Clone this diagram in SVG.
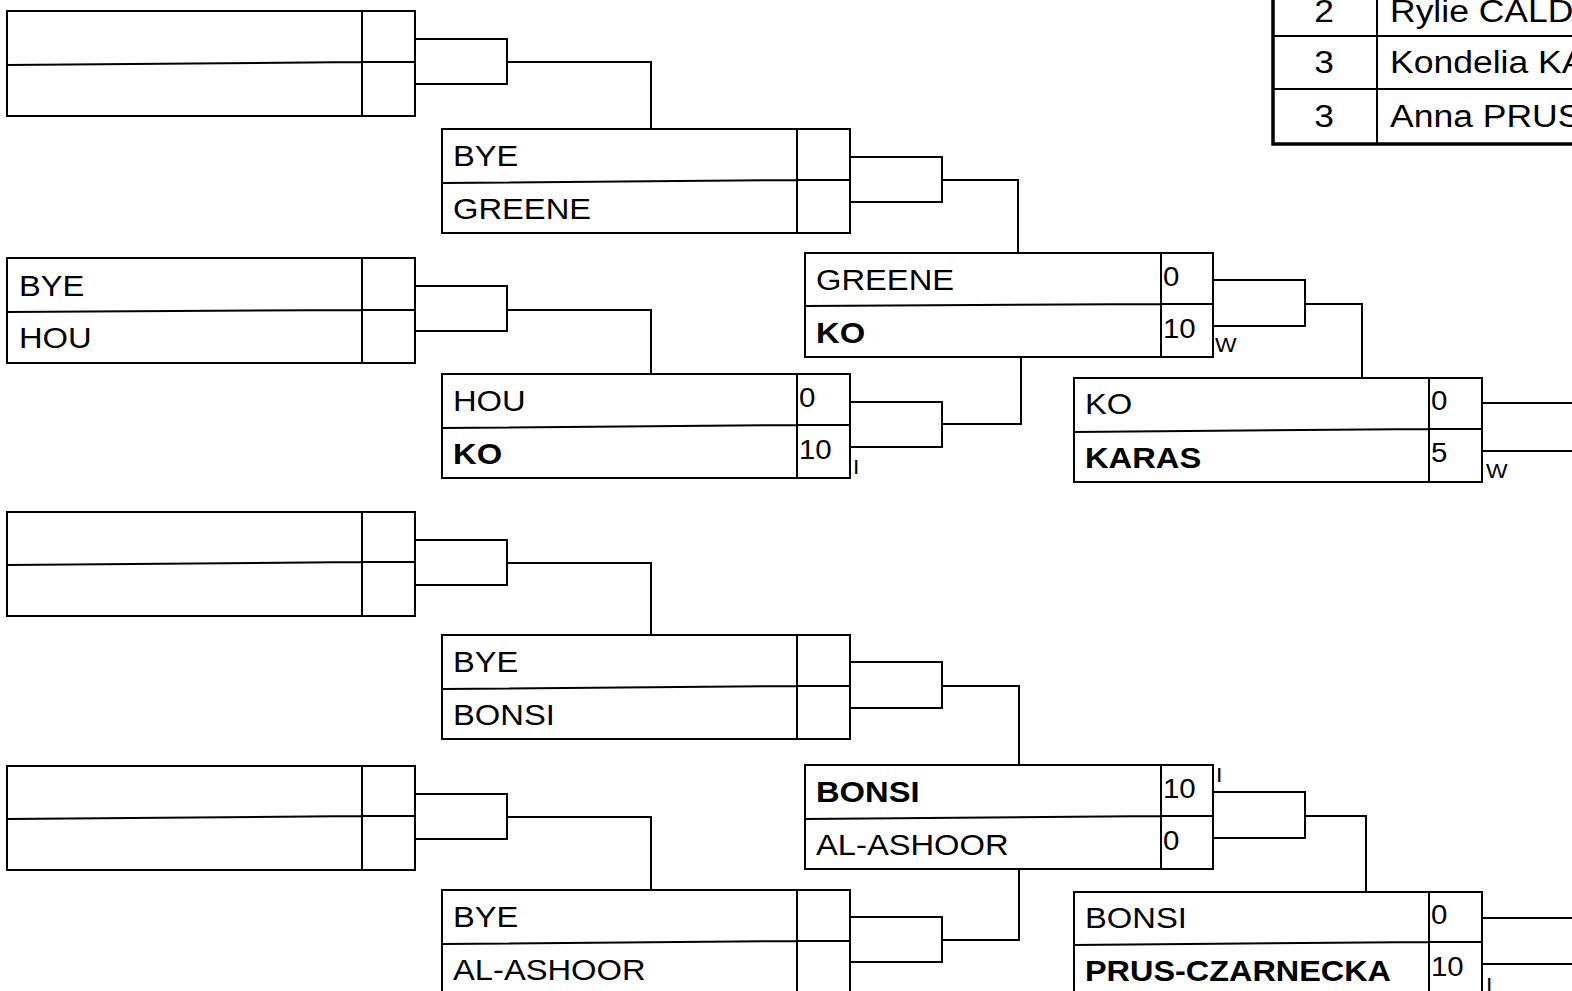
<svg xmlns="http://www.w3.org/2000/svg" width="1572" height="991" viewBox="0 0 1572 991">
<style>
.bx{fill:#fff;stroke:#000;stroke-width:2}
.ln{fill:none;stroke:#000;stroke-width:2}
.tk{fill:none;stroke:#000;stroke-width:3.5}
text{font-family:"Liberation Sans",Arial,sans-serif;fill:#000}
.nm{font-size:30px}
.b{font-weight:bold}
.sc{font-size:27px}
.lb{font-size:21px}
.tb{font-size:31px}
</style>
<rect width="1572" height="991" fill="#fff"/>

<g id="connectors" class="ln">
<path d="M415 39H507V84H415M507 62H651V129"/>
<path d="M415 286H507V331H415M507 310H651V374"/>
<path d="M415 540H507V585H415M507 563H651V635"/>
<path d="M415 794H507V839H415M507 817H651V890"/>
<path d="M850 157H942V202H850M942 180H1018V253"/>
<path d="M850 402H942V447H850M942 424H1021V357"/>
<path d="M850 662H942V708H850M942 686H1019V765"/>
<path d="M850 917H942V962H850M942 940H1019V869"/>
<path d="M1213 280H1305V326H1213M1305 304H1362V378"/>
<path d="M1213 792H1305V838H1213M1305 816H1366V892"/>
<path d="M1482 403H1572M1482 451H1572"/>
<path d="M1482 918H1572M1482 964H1572"/>
</g>

<g id="box-r1-1">
<rect class="bx" x="7" y="11" width="408" height="105"/>
<path class="ln" d="M362 11V116M7 65L362 62H415"/>
</g>
<g id="box-r1-2">
<rect class="bx" x="7" y="258" width="408" height="105"/>
<path class="ln" d="M362 258V363M7 312L362 310H415"/>
<text class="nm" x="19" y="296" textLength="65.4" lengthAdjust="spacingAndGlyphs">BYE</text>
<text class="nm" x="19" y="348" textLength="72.7" lengthAdjust="spacingAndGlyphs">HOU</text>
</g>
<g id="box-r1-3">
<rect class="bx" x="7" y="512" width="408" height="104"/>
<path class="ln" d="M362 512V616M7 565L362 562H415"/>
</g>
<g id="box-r1-4">
<rect class="bx" x="7" y="766" width="408" height="104"/>
<path class="ln" d="M362 766V870M7 819L362 816H415"/>
</g>

<g id="box-r2-1">
<rect class="bx" x="442" y="129" width="408" height="104"/>
<path class="ln" d="M797 129V233M442 183L797 180H850"/>
<text class="nm" x="453" y="166" textLength="65.4" lengthAdjust="spacingAndGlyphs">BYE</text>
<text class="nm" x="453" y="219" textLength="138.1" lengthAdjust="spacingAndGlyphs">GREENE</text>
</g>
<g id="box-r2-2">
<rect class="bx" x="442" y="374" width="408" height="104"/>
<path class="ln" d="M797 374V478M442 428L797 425H850"/>
<text class="nm" x="453" y="411" textLength="72.7" lengthAdjust="spacingAndGlyphs">HOU</text>
<text class="nm b" x="453" y="464" textLength="49.1" lengthAdjust="spacingAndGlyphs">KO</text>
<text class="sc" x="799" y="407" textLength="16.4" lengthAdjust="spacingAndGlyphs">0</text>
<text class="sc" x="799" y="459" textLength="32.7" lengthAdjust="spacingAndGlyphs">10</text>
<text class="lb" x="853" y="474" textLength="6.4" lengthAdjust="spacingAndGlyphs">I</text>
</g>
<g id="box-r2-3">
<rect class="bx" x="442" y="635" width="408" height="104"/>
<path class="ln" d="M797 635V739M442 689L797 686H850"/>
<text class="nm" x="453" y="672" textLength="65.4" lengthAdjust="spacingAndGlyphs">BYE</text>
<text class="nm" x="453" y="725" textLength="101.8" lengthAdjust="spacingAndGlyphs">BONSI</text>
</g>
<g id="box-r2-4">
<rect class="bx" x="442" y="890" width="408" height="106"/>
<path class="ln" d="M797 890V996M442 944L797 941H850"/>
<text class="nm" x="453" y="927" textLength="65.4" lengthAdjust="spacingAndGlyphs">BYE</text>
<text class="nm" x="453" y="980" textLength="192.6" lengthAdjust="spacingAndGlyphs">AL-ASHOOR</text>
</g>

<g id="box-r3-1">
<rect class="bx" x="805" y="253" width="408" height="104"/>
<path class="ln" d="M1161 253V357M805 306L1161 304H1213"/>
<text class="nm" x="816" y="290" textLength="138.1" lengthAdjust="spacingAndGlyphs">GREENE</text>
<text class="nm b" x="816" y="343" textLength="49.1" lengthAdjust="spacingAndGlyphs">KO</text>
<text class="sc" x="1163" y="286" textLength="16.4" lengthAdjust="spacingAndGlyphs">0</text>
<text class="sc" x="1163" y="338" textLength="32.7" lengthAdjust="spacingAndGlyphs">10</text>
<text class="lb" x="1215" y="352" textLength="21.6" lengthAdjust="spacingAndGlyphs">W</text>
</g>
<g id="box-r3-2">
<rect class="bx" x="805" y="765" width="408" height="104"/>
<path class="ln" d="M1161 765V869M805 819L1161 816H1213"/>
<text class="nm b" x="816" y="802" textLength="103.6" lengthAdjust="spacingAndGlyphs">BONSI</text>
<text class="nm" x="816" y="855" textLength="192.6" lengthAdjust="spacingAndGlyphs">AL-ASHOOR</text>
<text class="sc" x="1163" y="798" textLength="32.7" lengthAdjust="spacingAndGlyphs">10</text>
<text class="sc" x="1163" y="850" textLength="16.4" lengthAdjust="spacingAndGlyphs">0</text>
<text class="lb" x="1216" y="782" textLength="6.4" lengthAdjust="spacingAndGlyphs">I</text>
</g>

<g id="box-r4-1">
<rect class="bx" x="1074" y="378" width="408" height="104"/>
<path class="ln" d="M1429 378V482M1074 432L1429 429H1482"/>
<text class="nm" x="1085" y="414" textLength="47.3" lengthAdjust="spacingAndGlyphs">KO</text>
<text class="nm b" x="1085" y="468" textLength="116.2" lengthAdjust="spacingAndGlyphs">KARAS</text>
<text class="sc" x="1431" y="410" textLength="16.4" lengthAdjust="spacingAndGlyphs">0</text>
<text class="sc" x="1431" y="462" textLength="16.4" lengthAdjust="spacingAndGlyphs">5</text>
<text class="lb" x="1486" y="478" textLength="21.6" lengthAdjust="spacingAndGlyphs">W</text>
</g>
<g id="box-r4-2">
<rect class="bx" x="1074" y="892" width="408" height="106"/>
<path class="ln" d="M1429 892V998M1074 945L1429 942H1482"/>
<text class="nm" x="1085" y="928" textLength="101.8" lengthAdjust="spacingAndGlyphs">BONSI</text>
<text class="nm b" x="1085" y="981" textLength="306" lengthAdjust="spacingAndGlyphs">PRUS-CZARNECKA</text>
<text class="sc" x="1431" y="924" textLength="16.4" lengthAdjust="spacingAndGlyphs">0</text>
<text class="sc" x="1431" y="976" textLength="32.7" lengthAdjust="spacingAndGlyphs">10</text>
<text class="lb" x="1486" y="992" textLength="6.4" lengthAdjust="spacingAndGlyphs">I</text>
</g>

<g id="medal-table">
<rect class="tk" x="1273" y="-20" width="320" height="164"/>
<path class="ln" d="M1377 -20V144M1273 36H1572M1273 89H1572"/>
<text class="tb" x="1324" y="22" text-anchor="middle" textLength="19.7" lengthAdjust="spacingAndGlyphs">2</text>
<text class="tb" x="1324" y="73" text-anchor="middle" textLength="19.7" lengthAdjust="spacingAndGlyphs">3</text>
<text class="tb" x="1324" y="127" text-anchor="middle" textLength="19.7" lengthAdjust="spacingAndGlyphs">3</text>
<text class="tb" x="1390" y="22" textLength="183.4" lengthAdjust="spacingAndGlyphs">Rylie CALD</text>
<text class="tb" x="1390" y="73" textLength="195.4" lengthAdjust="spacingAndGlyphs">Kondelia KA</text>
<text class="tb" x="1390" y="127" textLength="191.4" lengthAdjust="spacingAndGlyphs">Anna PRUS</text>
</g>
</svg>
